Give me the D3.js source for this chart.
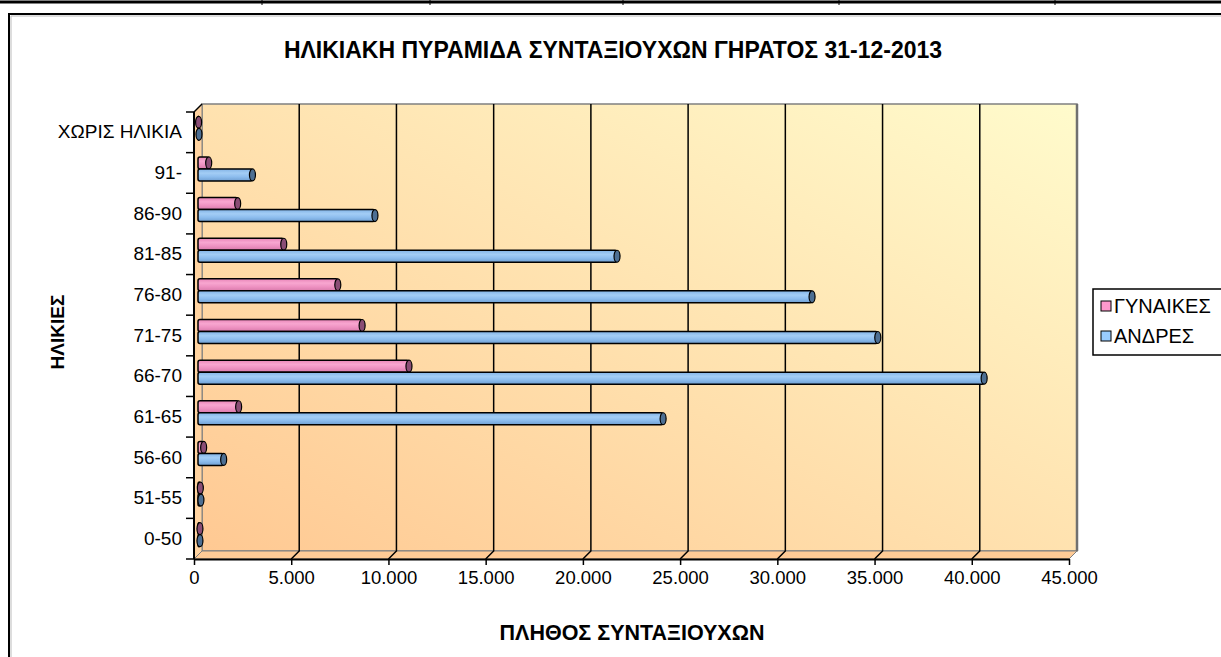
<!DOCTYPE html>
<html>
<head>
<meta charset="utf-8">
<script src="https://cdn.jsdelivr.net/npm/d3@7"></script>
<style>
  body { margin: 0; background: #fff; }
  svg { display: block; font-family: Arial, "Liberation Sans", sans-serif; }
</style>
</head>
<body>
<div id="chart"></div>
<script>
// data (bottom to top)
var categories = ["0-50", "51-55", "56-60", "61-65", "66-70", "71-75", "76-80", "81-85", "86-90", "91-", "ΧΩΡΙΣ ΗΛΙΚΙΑ"];
var women = [100, 120, 290, 2090, 10850, 8440, 7190, 4410, 2040, 550, 30];
var men = [100, 150, 1320, 23920, 40430, 34960, 31580, 21550, 9100, 2800, 50];
var seriesNames = ["ΓΥΝΑΙΚΕΣ", "ΑΝΔΡΕΣ"];
var xTicks = [0, 5000, 10000, 15000, 20000, 25000, 30000, 35000, 40000, 45000];

const W = 1221, H = 657;
const plot = { left: 194, right: 1069, top: 112, bottom: 559 };
const depth = 8;

var svg = d3.select("#chart").append("svg").attr("width", W).attr("height", H);
var defs = svg.append("defs");

var wallGrad = defs.append("linearGradient").attr("id", "wall")
    .attr("x1", 0).attr("y1", 1).attr("x2", 1).attr("y2", 0);
wallGrad.append("stop").attr("offset", 0).attr("stop-color", "#ffc993");
wallGrad.append("stop").attr("offset", 1).attr("stop-color", "#fffbcc");

function cylGrad(id, c) {
    var g = defs.append("linearGradient").attr("id", id).attr("x1", 0).attr("y1", 0).attr("x2", 0).attr("y2", 1);
    g.append("stop").attr("offset", 0).attr("stop-color", c[0]);
    g.append("stop").attr("offset", 0.35).attr("stop-color", c[1]);
    g.append("stop").attr("offset", 0.65).attr("stop-color", c[2]);
    g.append("stop").attr("offset", 1).attr("stop-color", c[3]);
}
cylGrad("pinkCyl", ["#e985b8", "#f8a6d0", "#ee92c2", "#d97aab"]);
cylGrad("blueCyl", ["#82b3e6", "#a3cdf5", "#8dbdee", "#6f9fd2"]);
var capColor = ["#8a4d75", "#4d6f93"];

// spreadsheet cell border at top
svg.append("line").attr("x1", 0).attr("x2", W).attr("y1", 2).attr("y2", 2)
    .attr("stroke", "#000").attr("stroke-width", 3);
[262, 430, 623, 839, 1055].forEach(function (x) {
    svg.append("line").attr("x1", x).attr("x2", x).attr("y1", 0).attr("y2", 5)
        .attr("stroke", "#000").attr("stroke-width", 1);
});

// chart area frame
svg.append("path").attr("d", "M9," + H + " V14 H" + W)
    .attr("fill", "none").attr("stroke", "#000").attr("stroke-width", 2);
svg.append("path").attr("d", "M11," + H + " V16 H" + W)
    .attr("fill", "none").attr("stroke", "#bbb").attr("stroke-width", 1);

var x = d3.scaleLinear().domain([0, 45000]).range([plot.left, plot.right]);
var y = d3.scaleBand().domain(categories).range([plot.bottom, plot.top]);

// walls
svg.append("rect")
    .attr("x", plot.left + depth).attr("y", plot.top - depth)
    .attr("width", plot.right - plot.left).attr("height", plot.bottom - plot.top)
    .attr("fill", "url(#wall)").attr("stroke", "#808080").attr("stroke-width", 1.5);
svg.append("path")
    .attr("d", "M" + plot.left + "," + plot.top + " L" + (plot.left + depth) + "," + (plot.top - depth) +
        " V" + (plot.bottom - depth) + " L" + plot.left + "," + plot.bottom + "Z")
    .attr("fill", "#ffd3a0").attr("stroke", "#808080");
svg.append("path")
    .attr("d", "M" + plot.left + "," + plot.bottom + " L" + (plot.left + depth) + "," + (plot.bottom - depth) +
        " H" + (plot.right + depth) + " L" + plot.right + "," + plot.bottom + "Z")
    .attr("fill", "#ffcb96").attr("stroke", "#808080");
svg.append("line").attr("x1", plot.right + depth).attr("x2", plot.right + depth)
    .attr("y1", plot.top - depth).attr("y2", plot.bottom - depth)
    .attr("stroke", "#707070").attr("stroke-width", 2.5);

// gridlines on back wall and floor
svg.append("g").selectAll("path").data(xTicks.slice(1, -1)).join("path")
    .attr("d", d => "M" + x(d) + "," + plot.bottom + " L" + (x(d) + depth) + "," + (plot.bottom - depth) +
        " V" + (plot.top - depth))
    .attr("fill", "none").attr("stroke", "#000").attr("stroke-width", 1.5);

// x axis
var fmt = d3.formatLocale({ decimal: ",", thousands: ".", grouping: [3], currency: ["", "€"] }).format(",");
var axisX = d3.axisBottom(x).tickValues(xTicks).tickFormat(fmt).tickSize(6).tickSizeOuter(0).tickPadding(6);
var gx = svg.append("g").attr("transform", "translate(0," + plot.bottom + ")").call(axisX);
gx.select(".domain").attr("stroke-width", 2);
gx.selectAll(".tick line").attr("stroke-width", 1.5);
gx.selectAll("text").attr("font-size", 18.5).attr("fill", "#000").attr("font-family", "Arial, 'Liberation Sans'");

// y axis
var axisY = d3.axisLeft(y).tickSize(0).tickPadding(12);
var gy = svg.append("g").attr("transform", "translate(" + plot.left + ",0)").call(axisY);
gy.select(".domain").remove();
gy.selectAll("text").attr("font-size", 19).attr("fill", "#000").attr("font-family", "Arial, 'Liberation Sans'");
svg.append("line").attr("x1", plot.left).attr("x2", plot.left).attr("y1", plot.top).attr("y2", plot.bottom)
    .attr("stroke", "#000").attr("stroke-width", 2);
svg.append("line").attr("x1", plot.left).attr("x2", plot.left + depth).attr("y1", plot.top).attr("y2", plot.top - depth)
    .attr("stroke", "#000").attr("stroke-width", 1.5);
var bounds = categories.map(c => y(c)).concat([plot.bottom]);
svg.append("g").selectAll("line").data(bounds).join("line")
    .attr("x1", plot.left - 8).attr("x2", plot.left).attr("y1", d => d).attr("y2", d => d)
    .attr("stroke", "#000").attr("stroke-width", 1.5);

// cylinders
var barH = 12;
var rows = [];
categories.forEach(function (c, i) {
    rows.push({ cat: c, v: women[i], s: 0 });
    rows.push({ cat: c, v: men[i], s: 1 });
});
var half = depth / 2;
var bars = svg.append("g").selectAll("g").data(rows).join("g")
    .attr("transform", d => "translate(" + half + "," + (y(d.cat) + y.bandwidth() / 2 - half - barH + d.s * barH) + ")");
bars.append("rect")
    .attr("x", x(0))
    .attr("y", 0)
    .attr("width", d => Math.max(0, x(d.v) - x(0)))
    .attr("height", barH)
    .attr("rx", 2)
    .attr("fill", d => d.s === 0 ? "url(#pinkCyl)" : "url(#blueCyl)")
    .attr("stroke", "#000").attr("stroke-width", 1.5);
bars.append("ellipse")
    .attr("cx", d => x(d.v))
    .attr("cy", barH / 2)
    .attr("rx", 3)
    .attr("ry", barH / 2)
    .attr("fill", d => capColor[d.s])
    .attr("stroke", "#000").attr("stroke-width", 1.2);

// titles
svg.append("text").attr("x", 613).attr("y", 58).attr("text-anchor", "middle")
    .attr("font-size", 23).attr("font-weight", "bold").text("ΗΛΙΚΙΑΚΗ ΠΥΡΑΜΙΔΑ ΣΥΝΤΑΞΙΟΥΧΩΝ ΓΗΡΑΤΟΣ 31-12-2013");
svg.append("text").attr("x", 632).attr("y", 640).attr("text-anchor", "middle")
    .attr("font-size", 21.5).attr("font-weight", "bold").text("ΠΛΗΘΟΣ ΣΥΝΤΑΞΙΟΥΧΩΝ");
svg.append("text").attr("transform", "translate(64,332) rotate(-90)").attr("text-anchor", "middle")
    .attr("font-size", 19).attr("font-weight", "bold").text("ΗΛΙΚΙΕΣ");

// legend
svg.append("rect").attr("x", 1093).attr("y", 289).attr("width", 160).attr("height", 66)
    .attr("fill", "#fff").attr("stroke", "#000").attr("stroke-width", 1.5);
var leg = svg.append("g").selectAll("g").data(seriesNames).join("g")
    .attr("transform", (d, i) => "translate(1101," + (301 + i * 30) + ")");
leg.append("rect").attr("width", 10).attr("height", 10)
    .attr("fill", (d, i) => i === 0 ? "#ff99cc" : "#99ccff").attr("stroke", "#000");
leg.append("text").attr("x", 13).attr("y", 5).attr("dy", "0.35em")
    .attr("font-size", 20).text(d => d);
</script>
</body>
</html>
